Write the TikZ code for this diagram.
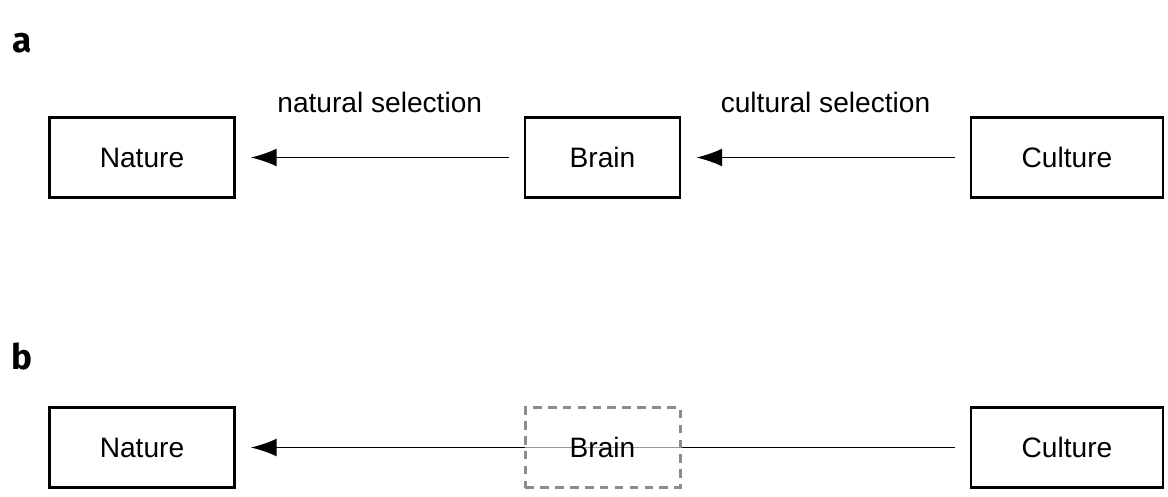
\documentclass[tikz,border=0pt]{standalone}
\usepackage{fontspec}
\setmainfont{Liberation Sans}
\newfontfamily\tagfont{Fira Sans}
\usetikzlibrary{arrows.meta}
\begin{document}
\begin{tikzpicture}[
  box/.style={draw, line width=1.4pt, minimum height=1.6cm, font=\fontsize{16}{19}\selectfont},
  pull/.style={-{Latex[length=0.52cm, width=0.36cm]}, line width=1.05pt, shorten <=0.3cm, shorten >=0.3cm},
  tag/.style={font=\tagfont\bfseries\fontsize{20}{24}\selectfont},
  lbl/.style={font=\fontsize{16}{19}\selectfont, yshift=1.1cm}]
\definecolor{ghost}{RGB}{140,140,140}
\useasboundingbox (0,0) rectangle (23.36,9.92);
\node[tag] (taga) at (0.44,9.05) {a};
\node[box, minimum width=3.7cm] (naturea) at (2.84,6.77) {Nature};
\node[box, minimum width=3.1cm] (braina) at (12.05,6.77) {Brain};
\node[box, minimum width=3.84cm] (culturea) at (21.34,6.77) {Culture};
\draw[pull] (braina) -- node[lbl] (natsel) {natural selection} (naturea);
\draw[pull] (culturea) -- node[lbl] (cultsel) {cultural selection} (braina);
\node[tag] (tagb) at (0.44,2.8) {b};
\node[box, minimum width=3.7cm] (natureb) at (2.84,0.97) {Nature};
\node[box, minimum width=3.84cm] (cultureb) at (21.34,0.97) {Culture};
\draw[pull] (cultureb) -- (natureb);
\node[box, minimum width=3.1cm, draw=ghost, line width=1.7pt, dash pattern=on 5pt off 3.5pt, fill=white, fill opacity=0.6, text opacity=1] (brainb) at (12.05,0.97) {Brain};
\end{tikzpicture}
\end{document}
